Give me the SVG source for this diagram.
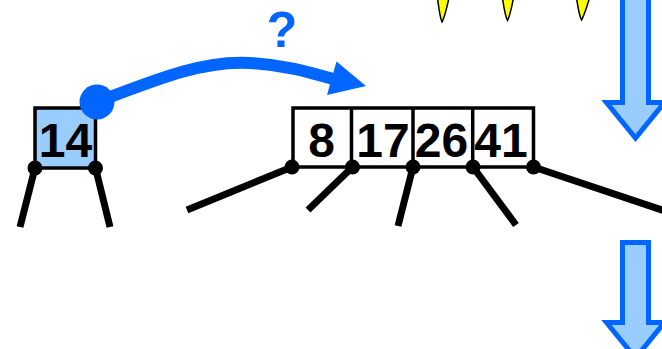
<svg xmlns="http://www.w3.org/2000/svg" width="662" height="349" viewBox="0 0 662 349">
<style>
.box{stroke:#000;stroke-width:3.5;}
.key{font-family:"Liberation Sans",Arial,sans-serif;font-weight:bold;font-size:48px;fill:#000;text-anchor:middle;}
.ptr{stroke:#000;stroke-width:7;fill:none;}
.dot{fill:#000;}
.big{fill:#99CCFF;stroke:#0066FF;stroke-width:5;stroke-linejoin:miter;}
.spike{fill:#FFFF00;stroke:#000;stroke-width:1.5;}
</style>
<rect width="662" height="349" fill="#fff"/>
<g id="spikes">
<path class="spike" d="M437.5,-2 Q440,18 442,22 Q444.5,18 449,-2 Z"/>
<path class="spike" d="M502.5,-2 Q505,16 507.5,20.5 Q510,16 513.5,-2 Z"/>
<path class="spike" d="M576.5,-2 Q579,15 581.5,20 Q584.5,15 589.5,-2 Z"/>
</g>
<g id="arrow-down-1">
<path class="big" d="M622.5,-10 V102.5 H606.5 L635.5,138 L664.5,102.5 H648.5 V-10 Z"/>
</g>
<g id="arrow-down-2">
<path class="big" d="M622.5,242.5 V322.5 H606.5 L635.5,358 L664.5,322.5 H648.5 V242.5 Z"/>
</g>
<g id="node-14">
<rect class="box" x="35" y="108" width="60.5" height="60" fill="#99CCFF"/>
<text class="key" x="65.5" y="157">14</text>
</g>
<g id="node-8-17-26-41">
<rect class="box" x="293" y="108" width="240.5" height="59" fill="#fff"/>
<line class="box" x1="351.5" y1="108" x2="351.5" y2="167"/>
<line class="box" x1="413" y1="108" x2="413" y2="167"/>
<line class="box" x1="472.7" y1="108" x2="472.7" y2="167"/>
<text class="key" x="321.5" y="157">8</text>
<text class="key" x="383" y="157">17</text>
<text class="key" x="441.5" y="157">26</text>
<text class="key" x="501" y="157">41</text>
</g>
<g id="connectors">
<line class="ptr" x1="35" y1="168" x2="20" y2="227"/>
<line class="ptr" x1="95.5" y1="168" x2="110" y2="227"/>
<line class="ptr" x1="292" y1="167" x2="187" y2="210"/>
<line class="ptr" x1="352.5" y1="167" x2="308" y2="210"/>
<line class="ptr" x1="413" y1="167" x2="398" y2="226"/>
<line class="ptr" x1="473" y1="167" x2="516" y2="225"/>
<line class="ptr" x1="533.5" y1="167" x2="680" y2="216"/>
<circle class="dot" cx="35" cy="168" r="7.5"/>
<circle class="dot" cx="95.5" cy="168" r="7.5"/>
<circle class="dot" cx="292" cy="167" r="7.5"/>
<circle class="dot" cx="352.5" cy="167" r="7.5"/>
<circle class="dot" cx="413" cy="167" r="7.5"/>
<circle class="dot" cx="473" cy="167" r="7.5"/>
<circle class="dot" cx="533.5" cy="167" r="7.5"/>
</g>
<g id="search-arrow">
<path d="M97,102 C160,78 205,60 250,63 C288,65 312,73 340,81" fill="none" stroke="#0066FF" stroke-width="12"/>
<polygon points="366,86 336.5,61.5 327,95" fill="#0066FF"/>
<circle cx="97" cy="102" r="17.5" fill="#0066FF"/>
<text x="282" y="47" font-family="'Liberation Sans',Arial,sans-serif" font-weight="bold" font-size="50" fill="#0066FF" text-anchor="middle">?</text>
</g>
</svg>
